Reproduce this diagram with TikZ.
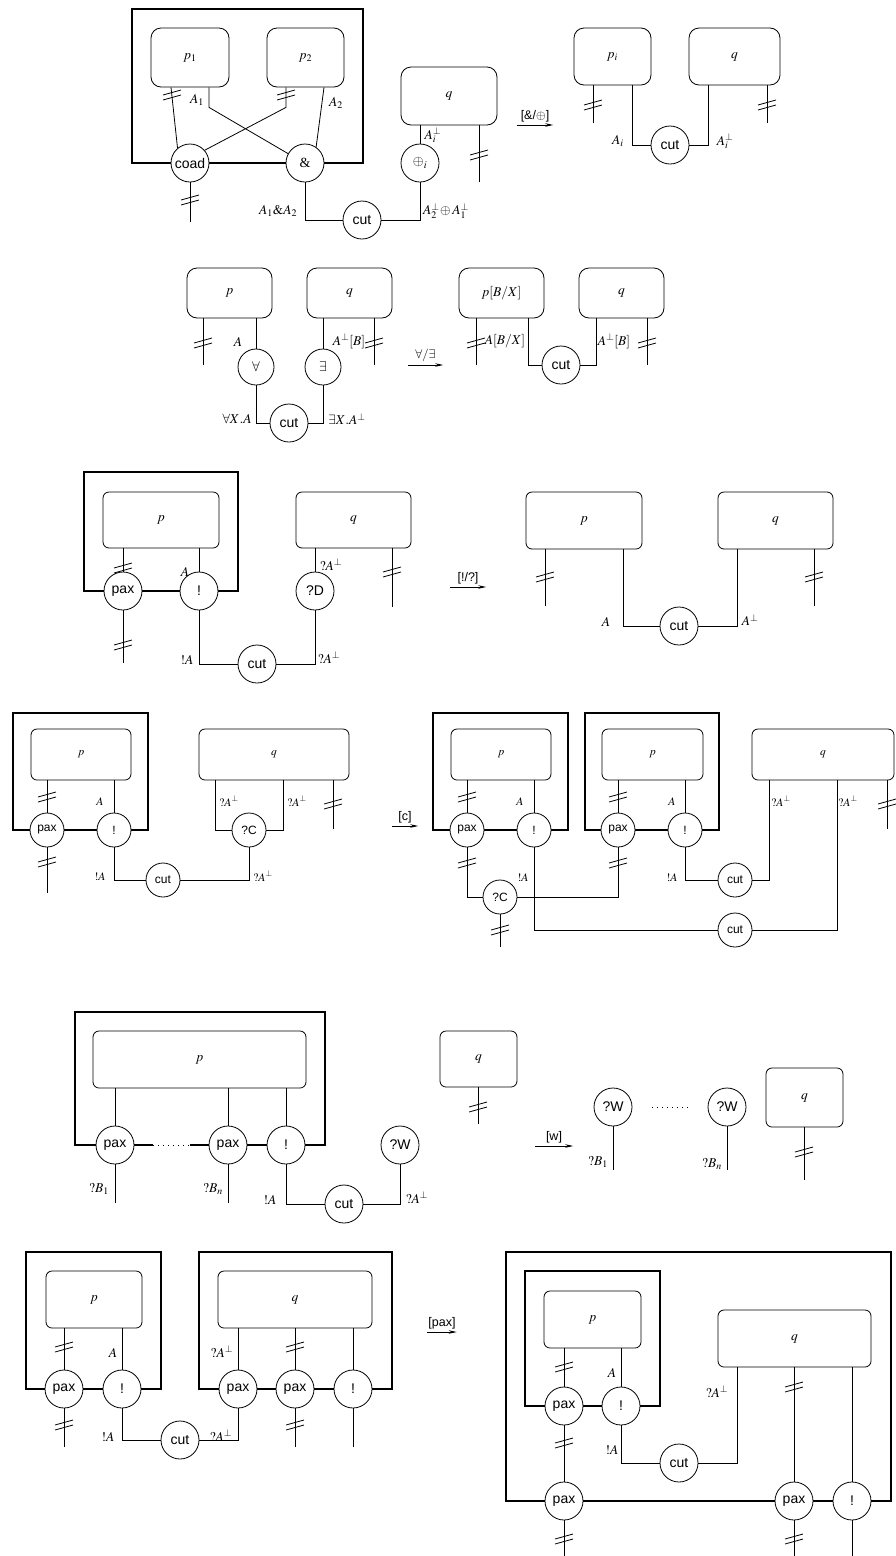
\documentclass[tikz,border=0pt]{standalone}
\usepackage{mathptmx}
\usepackage{fontspec}
\setmainfont{Liberation Serif}
\setsansfont{Liberation Sans}
\usetikzlibrary{arrows.meta}

\tikzset{
  dtick/.pic={\draw[line width=0.8pt] (-9,0) -- (9,-5); \draw[line width=0.8pt] (-9,5) -- (9,0);}
}

\begin{document}
\begin{tikzpicture}[x=1pt, y=-1pt,
    wire/.style={line width=0.8pt},
    bang/.style={line width=2.2pt},
    proc/.style={draw, line width=0.8pt, rounded corners=10pt, inner sep=0pt,
                 font=\fontsize{13.5}{15}\selectfont},
    procs/.style={proc, rounded corners=6pt},
    gate/.style={circle, draw, fill=white, line width=0.8pt, minimum size=38pt,
                 inner sep=0pt, font=\sffamily\fontsize{14}{16}\selectfont},
    sgate/.style={gate, minimum size=34pt, font=\sffamily\fontsize{12}{14}\selectfont},
    lbl/.style={inner sep=0pt, font=\fontsize{13.5}{15}\selectfont},
    slbl/.style={inner sep=0pt, font=\fontsize{11.5}{13}\selectfont},
    rlab/.style={anchor=south, inner xsep=0pt, inner ysep=3pt,
                 font=\sffamily\fontsize{12.5}{14}\selectfont},
    rule/.style={-{Stealth[length=8pt,width=3.5pt]}, line width=0.8pt}
  ]
  \useasboundingbox (0,0) rectangle (896,1556);

  \draw[bang] (132,9) rectangle (363,163);
  \node[proc, minimum width=78pt, minimum height=59pt] (p1) at (190,57.5) {$p_1$};
  \node[proc, minimum width=77pt, minimum height=59pt] (p2) at (305.5,57.5) {$p_2$};
  \node[proc, minimum width=96pt, minimum height=58pt] (q1) at (449,96) {$q$};
  \node[gate] (coad) at (190,163) {coad};
  \node[gate] (with) at (305,163) {{\rmfamily\&}};
  \node[gate] (plus) at (420,163) {$\oplus_i$};
  \node[gate] (cut1) at (362,220) {cut};
  \coordinate (e1) at (190,222);
  \coordinate (e2) at (479,182);
  \draw[wire] (p1.south -| 171,0) -- (coad.130);
  \draw[wire] (p1.south -| 209,0) -- ++(0,20) -- (with.151);
  \draw[wire] (p2.south -| 286,0) -- ++(0,20) -- (coad.41);
  \draw[wire] (p2.south -| 324,0) -- (with.55);
  \draw[wire] (coad) -- (e1);
  \draw[wire] (with) |- (cut1);
  \draw[wire] (plus) |- (cut1);
  \draw[wire] (plus) -- (plus |- q1.south);
  \draw[wire] (q1.south -| 479,0) -- (e2);
  \pic at (172,95) {dtick};
  \pic at (286,95) {dtick};
  \pic at (190,200) {dtick};
  \pic at (479,155) {dtick};
  \node[lbl] (la1) at (197,100) {$A_1$};
  \node[lbl] (la2) at (336,103) {$A_2$};
  \node[lbl] (law) at (278,211) {$A_1\&A_2$};
  \node[lbl] (lap) at (446,211) {$A_2^{\perp}\!\oplus A_1^{\perp}$};
  \node[lbl] (lai) at (433,135) {$A_i^{\perp}$};

  \node[rlab, minimum width=36pt] (r1) at (535,125) {[\&/$\oplus$]};
  \draw[rule] (r1.south west) -- (r1.south east);

  \node[proc, minimum width=77pt, minimum height=57pt] (pi) at (612.5,56.5) {$p_i$};
  \node[proc, minimum width=91pt, minimum height=57pt] (q2) at (734.5,56.5) {$q$};
  \node[gate] (cut2) at (670,145) {cut};
  \coordinate (e3) at (593,123);
  \coordinate (e4) at (767,123);
  \draw[wire] (pi.south -| 593,0) -- (e3);
  \draw[wire] (cut2) -| (pi.south -| 632,0);
  \draw[wire] (cut2) -| (q2.south -| 708,0);
  \draw[wire] (q2.south -| 767,0) -- (e4);
  \pic at (593,105) {dtick};
  \pic at (767,105) {dtick};
  \node[lbl] (lai2) at (618,141) {$A_i$};
  \node[lbl] (lai3) at (725,141) {$A_i^{\perp}$};

  \node[proc, minimum width=85pt, minimum height=50pt] (p3) at (229.5,293) {$p$};
  \node[proc, minimum width=85pt, minimum height=50pt] (q3) at (349.5,293) {$q$};
  \node[gate, minimum size=36pt] (all) at (256,367) {$\forall$};
  \node[gate, minimum size=36pt] (ex) at (323,367) {$\exists$};
  \node[gate] (cut3) at (289,423) {cut};
  \coordinate (e5) at (203,365);
  \coordinate (e6) at (374,365);
  \draw[wire] (p3.south -| 203,0) -- (e5);
  \draw[wire] (all) -- (all |- p3.south);
  \draw[wire] (all) |- (cut3);
  \draw[wire] (ex) |- (cut3);
  \draw[wire] (ex) -- (ex |- q3.south);
  \draw[wire] (q3.south -| 374,0) -- (e6);
  \pic at (203,343) {dtick};
  \pic at (374,343) {dtick};
  \node[lbl] (la3) at (238,342) {$A$};
  \node[lbl] (lab) at (349,341) {$A^{\perp}[B]$};
  \node[lbl] (lall) at (237,419) {$\forall X.A$};
  \node[lbl] (lex) at (347,419) {$\exists X.A^{\perp}$};

  \node[rlab, minimum width=35pt] (r2) at (425.5,365) {$\forall/\exists$};
  \draw[rule] (r2.south west) -- (r2.south east);

  \node[proc, minimum width=85pt, minimum height=50pt] (pbx) at (501.5,293) {$p[B/X]$};
  \node[proc, minimum width=85pt, minimum height=50pt] (q4) at (621.5,293) {$q$};
  \node[gate] (cut4) at (561,365) {cut};
  \coordinate (e7) at (476,365);
  \coordinate (e8) at (647,365);
  \draw[wire] (pbx.south -| 476,0) -- (e7);
  \draw[wire] (cut4) -| (pbx.south -| 528,0);
  \draw[wire] (cut4) -| (q4.south -| 596,0);
  \draw[wire] (q4.south -| 647,0) -- (e8);
  \pic at (476,343) {dtick};
  \pic at (647,343) {dtick};
  \node[lbl] (lbx) at (505,341) {$A[B/X]$};
  \node[lbl] (lab2) at (614,341) {$A^{\perp}[B]$};

  \draw[bang] (84,472) rectangle (238,591);
  \node[procs, minimum width=116pt, minimum height=56pt] (p5) at (161,520) {$p$};
  \node[procs, minimum width=115pt, minimum height=56pt] (q5) at (353.5,520) {$q$};
  \node[gate] (pax5) at (123,591) {pax};
  \node[gate] (bang5) at (199,591) {!};
  \node[gate] (qd) at (315,591) {?D};
  \node[gate] (cut5) at (257,664) {cut};
  \coordinate (e9) at (123,663);
  \coordinate (e10) at (392,607);
  \draw[wire] (pax5) -- (pax5 |- p5.south);
  \draw[wire] (pax5) -- (e9);
  \draw[wire] (bang5) -- (bang5 |- p5.south);
  \draw[wire] (bang5) |- (cut5);
  \draw[wire] (qd) |- (cut5);
  \draw[wire] (qd) -- (qd |- q5.south);
  \draw[wire] (q5.south -| 392,0) -- (e10);
  \pic at (123,568) {dtick};
  \pic at (123,645) {dtick};
  \pic at (392,572) {dtick};
  \node[lbl] (la5) at (185,572) {$A$};
  \node[lbl] (lba5) at (187,660) {$!A$};
  \node[lbl] (lqa5) at (331,565) {$?A^{\perp}$};
  \node[lbl] (lqb5) at (329,658) {$?A^{\perp}$};

  \node[rlab, minimum width=36pt] (r3) at (468,587) {[!/?]};
  \draw[rule] (r3.south west) -- (r3.south east);

  \node[procs, minimum width=116pt, minimum height=57pt] (p6) at (584,520.5) {$p$};
  \node[procs, minimum width=115pt, minimum height=57pt] (q6) at (775.5,520.5) {$q$};
  \node[gate] (cut6) at (679,626) {cut};
  \coordinate (e11) at (545,606);
  \coordinate (e12) at (814,606);
  \draw[wire] (p6.south -| 545,0) -- (e11);
  \draw[wire] (cut6) -| (p6.south -| 623,0);
  \draw[wire] (cut6) -| (q6.south -| 737,0);
  \draw[wire] (q6.south -| 814,0) -- (e12);
  \pic at (545,577) {dtick};
  \pic at (814,577) {dtick};
  \node[lbl] (la6) at (606,622) {$A$};
  \node[lbl] (lb6) at (750,620) {$A^{\perp}$};

  \draw[bang] (13,713) rectangle (148,830);
  \node[procs, minimum width=100pt, minimum height=51pt, font=\fontsize{11.5}{13}\selectfont] (p7) at (81,754.5) {$p$};
  \node[procs, minimum width=150pt, minimum height=51pt, font=\fontsize{11.5}{13}\selectfont] (q7) at (274,754.5) {$q$};
  \node[sgate] (pax7) at (47,830) {pax};
  \node[sgate] (bang7) at (114,830) {!};
  \node[sgate] (qc7) at (249,830) {?C};
  \node[sgate] (cut7) at (163,880) {cut};
  \coordinate (e13) at (47,893);
  \coordinate (e14) at (333,829);
  \draw[wire] (pax7) -- (pax7 |- p7.south);
  \draw[wire] (pax7) -- (e13);
  \draw[wire] (bang7) -- (bang7 |- p7.south);
  \draw[wire] (bang7) |- (cut7);
  \draw[wire] (qc7) |- (cut7);
  \draw[wire] (qc7) -| (q7.south -| 215,0);
  \draw[wire] (qc7) -| (q7.south -| 283,0);
  \draw[wire] (q7.south -| 333,0) -- (e14);
  \pic at (47,797) {dtick};
  \pic at (47,862) {dtick};
  \pic at (333,804) {dtick};
  \node[slbl] (la7) at (100,802) {$A$};
  \node[slbl] (lqa7) at (229,801) {$?A^{\perp}$};
  \node[slbl] (lqb7) at (297,801) {$?A^{\perp}$};
  \node[slbl] (lba7) at (100,877) {$!A$};
  \node[slbl] (lqc7) at (263,876) {$?A^{\perp}$};

  \node[rlab, minimum width=26pt] (r4) at (405,826) {[c]};
  \draw[rule] (r4.south west) -- (r4.south east);

  \draw[bang] (433,713) rectangle (568,830);
  \draw[bang] (585,713) rectangle (719,830);
  \node[procs, minimum width=100pt, minimum height=51pt, font=\fontsize{11.5}{13}\selectfont] (p8) at (501,754.5) {$p$};
  \node[procs, minimum width=101pt, minimum height=51pt, font=\fontsize{11.5}{13}\selectfont] (p9) at (652.5,754.5) {$p$};
  \node[procs, minimum width=142pt, minimum height=51pt, font=\fontsize{11.5}{13}\selectfont] (q8) at (823,754.5) {$q$};
  \node[sgate] (pax8) at (467,830) {pax};
  \node[sgate] (bang8) at (534,830) {!};
  \node[sgate] (pax9) at (618,830) {pax};
  \node[sgate] (bang9) at (685,830) {!};
  \node[sgate] (qc8) at (500,897) {?C};
  \node[sgate] (cut8) at (735,880) {cut};
  \node[sgate] (cut9) at (735,930) {cut};
  \coordinate (e15) at (500,947);
  \coordinate (e16) at (887,829);
  \draw[wire] (pax8) -- (pax8 |- p8.south);
  \draw[wire] (bang8) -- (bang8 |- p8.south);
  \draw[wire] (pax9) -- (pax9 |- p9.south);
  \draw[wire] (bang9) -- (bang9 |- p9.south);
  \draw[wire] (qc8) -| (pax8);
  \draw[wire] (qc8) -| (pax9);
  \draw[wire] (qc8) -- (e15);
  \draw[wire] (bang8) |- (cut9);
  \draw[wire] (bang9) |- (cut8);
  \draw[wire] (cut8) -| (q8.south -| 769,0);
  \draw[wire] (cut9) -| (q8.south -| 837,0);
  \draw[wire] (q8.south -| 887,0) -- (e16);
  \pic at (467,797) {dtick};
  \pic at (618,797) {dtick};
  \pic at (467,863) {dtick};
  \pic at (618,863) {dtick};
  \pic at (500,930) {dtick};
  \pic at (887,804) {dtick};
  \node[slbl] (la8) at (520,802) {$A$};
  \node[slbl] (la9) at (672,802) {$A$};
  \node[slbl] (lqa8) at (781,801) {$?A^{\perp}$};
  \node[slbl] (lqb8) at (848,801) {$?A^{\perp}$};
  \node[slbl] (lba8) at (523,878) {$!A$};
  \node[slbl] (lba9) at (672,878) {$!A$};

  \draw[bang] (153,1145) -| (75,1012) -| (325,1145) -- (190,1145);
  \draw[line width=1pt, dash pattern=on 1pt off 4pt] (153,1145) -- (190,1145);
  \node[procs, minimum width=213pt, minimum height=57pt] (p10) at (199.5,1059.5) {$p$};
  \node[procs, minimum width=77pt, minimum height=56pt] (q10) at (478.5,1059) {$q$};
  \node[gate] (pax10) at (115,1145) {pax};
  \node[gate] (pax11) at (228,1145) {pax};
  \node[gate] (bang10) at (286,1145) {!};
  \node[gate] (qw) at (400,1145) {?W};
  \node[gate] (cut10) at (344,1204) {cut};
  \coordinate (e17) at (115,1203);
  \coordinate (e18) at (228,1203);
  \coordinate (e19) at (478,1124);
  \draw[wire] (pax10) -- (pax10 |- p10.south);
  \draw[wire] (pax11) -- (pax11 |- p10.south);
  \draw[wire] (bang10) -- (bang10 |- p10.south);
  \draw[wire] (pax10) -- (e17);
  \draw[wire] (pax11) -- (e18);
  \draw[wire] (bang10) |- (cut10);
  \draw[wire] (qw) |- (cut10);
  \draw[wire] (q10.south -| 478,0) -- (e19);
  \pic at (478,1107) {dtick};
  \node[lbl] (lb1) at (99,1189) {$?B_1$};
  \node[lbl] (lbn) at (213,1189) {$?B_n$};
  \node[lbl] (lba10) at (270,1200) {$!A$};
  \node[lbl] (lqa10) at (417,1198) {$?A^{\perp}$};

  \node[rlab, minimum width=38pt] (r5) at (554,1146) {[w]};
  \draw[rule] (r5.south west) -- (r5.south east);

  \node[gate] (qw1) at (613,1107) {?W};
  \node[gate] (qw2) at (727,1107) {?W};
  \node[procs, minimum width=77pt, minimum height=59pt] (q11) at (804.5,1097.5) {$q$};
  \coordinate (e20) at (613,1170);
  \coordinate (e21) at (727,1170);
  \coordinate (e22) at (804,1180);
  \draw[wire] (qw1) -- (e20);
  \draw[wire] (qw2) -- (e21);
  \draw[line width=0.8pt, dash pattern=on 1pt off 4pt, shorten <=20pt, shorten >=20pt] (qw1) -- (qw2);
  \draw[wire] (q11.south -| 804,0) -- (e22);
  \pic at (804,1152) {dtick};
  \node[lbl] (lb2) at (598,1162) {$?B_1$};
  \node[lbl] (lbn2) at (712,1164) {$?B_n$};

  \draw[bang] (26,1252) rectangle (161,1389);
  \draw[bang] (199,1252) rectangle (392,1389);
  \node[procs, minimum width=96pt, minimum height=57pt] (p12) at (94,1299.5) {$p$};
  \node[procs, minimum width=154pt, minimum height=57pt] (q12) at (295,1299.5) {$q$};
  \node[gate] (pax12) at (64,1389) {pax};
  \node[gate] (bang12) at (122,1389) {!};
  \node[gate] (pax13) at (238,1389) {pax};
  \node[gate] (pax14) at (295,1389) {pax};
  \node[gate] (bang13) at (353,1389) {!};
  \node[gate] (cut12) at (180,1440) {cut};
  \coordinate (e23) at (64,1447);
  \coordinate (e24) at (295,1447);
  \coordinate (e25) at (353,1447);
  \draw[wire] (pax12) -- (pax12 |- p12.south);
  \draw[wire] (bang12) -- (bang12 |- p12.south);
  \draw[wire] (pax12) -- (e23);
  \draw[wire] (bang12) |- (cut12);
  \draw[wire] (pax13) |- (cut12);
  \draw[wire] (pax13) -- (pax13 |- q12.south);
  \draw[wire] (pax14) -- (pax14 |- q12.south);
  \draw[wire] (bang13) -- (bang13 |- q12.south);
  \draw[wire] (pax14) -- (e24);
  \draw[wire] (bang13) -- (e25);
  \pic at (64,1347) {dtick};
  \pic at (64,1425) {dtick};
  \pic at (295,1347) {dtick};
  \pic at (295,1425) {dtick};
  \node[lbl] (la12) at (113,1353) {$A$};
  \node[lbl] (lqa12) at (222,1352) {$?A^{\perp}$};
  \node[lbl] (lba12) at (108,1437) {$!A$};
  \node[lbl] (lqb12) at (221,1436) {$?A^{\perp}$};

  \node[rlab, minimum width=29pt] (r6) at (442,1332) {[pax]};
  \draw[rule] (r6.south west) -- (r6.south east);

  \draw[bang] (506,1252) rectangle (891,1501);
  \draw[bang] (525,1271) rectangle (660,1406);
  \node[procs, minimum width=97pt, minimum height=57pt] (p13) at (592.5,1319.5) {$p$};
  \node[procs, minimum width=153pt, minimum height=57pt] (q13) at (794.5,1338.5) {$q$};
  \node[gate] (pax15) at (564,1406) {pax};
  \node[gate] (bang15) at (621,1406) {!};
  \node[gate] (cut13) at (679,1463) {cut};
  \node[gate] (pax16) at (564,1501) {pax};
  \node[gate] (pax17) at (794,1501) {pax};
  \node[gate] (bang16) at (852,1501) {!};
  \coordinate (e26) at (564,1556);
  \coordinate (e27) at (794,1556);
  \coordinate (e28) at (852,1556);
  \draw[wire] (pax15) -- (pax15 |- p13.south);
  \draw[wire] (bang15) -- (bang15 |- p13.south);
  \draw[wire] (pax15) -- (pax16);
  \draw[wire] (bang15) |- (cut13);
  \draw[wire] (cut13) -| (q13.south -| 737,0);
  \draw[wire] (pax17) -- (pax17 |- q13.south);
  \draw[wire] (bang16) -- (bang16 |- q13.south);
  \draw[wire] (pax16) -- (e26);
  \draw[wire] (pax17) -- (e27);
  \draw[wire] (bang16) -- (e28);
  \pic at (564,1367) {dtick};
  \pic at (564,1443) {dtick};
  \pic at (794,1387) {dtick};
  \pic at (564,1539) {dtick};
  \pic at (794,1539) {dtick};
  \node[lbl] (la13) at (612,1373) {$A$};
  \node[lbl] (lba13) at (612,1450) {$!A$};
  \node[lbl] (lqa13) at (717,1392) {$?A^{\perp}$};
\end{tikzpicture}
\end{document}
